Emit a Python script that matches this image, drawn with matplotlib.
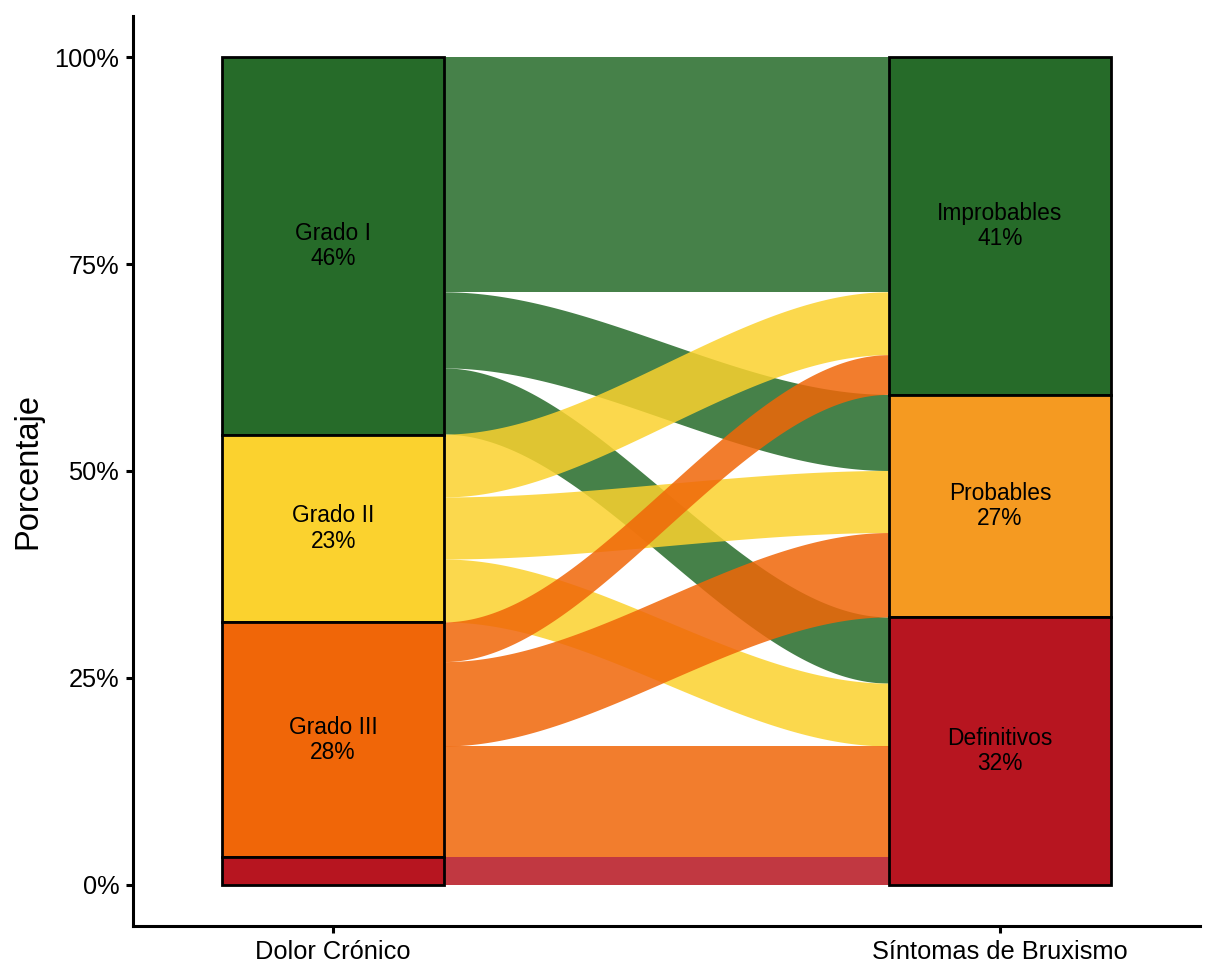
import numpy as np
import matplotlib
matplotlib.use("Agg")
import matplotlib.pyplot as plt
from matplotlib.patches import Rectangle, Polygon

plt.rcParams['font.family'] = ['Liberation Sans', 'DejaVu Sans']

# data (percent of patients)
axis_labels = ["Dolor Crónico", "Síntomas de Bruxismo"]
left_cats = ["Grado I", "Grado II", "Grado III", "Grado IV"]
right_cats = ["Improbables", "Probables", "Definitivos"]
# rows: left category, cols: right category
flows = np.array([
    [28.4, 9.2, 8.0],
    [7.6, 7.5, 7.6],
    [4.8, 10.2, 13.4],
    [0.0, 0.0, 3.3],
])
yticks = [0, 25, 50, 75, 100]
ytick_labels = ["0%", "25%", "50%", "75%", "100%"]

left_colors = ["#266B29", "#FBD22E", "#F06608", "#B71520"]
right_colors = ["#266B29", "#F59A21", "#B71520"]

width = 1 / 3
x_left, x_right = 1, 2
flow_alpha = 0.85

left_tot = flows.sum(axis=1)
right_tot = flows.sum(axis=0)

# stratum tops (stacked from the top, first category on top)
left_top = 100 - np.concatenate([[0], np.cumsum(left_tot)[:-1]])
right_top = 100 - np.concatenate([[0], np.cumsum(right_tot)[:-1]])

fig, ax = plt.subplots(figsize=(12.16, 9.8), dpi=100)
fig.subplots_adjust(left=0.1094, right=0.9868, bottom=0.0551, top=0.9837)

# flows
x0 = x_left + width / 2
x1 = x_right - width / 2
t = np.linspace(0, 1, 200)
s = 3 * t**2 - 2 * t**3
xs = x0 + (x1 - x0) * t

lpos = left_top.copy()
rpos = right_top.copy()
segments = []
for i in range(len(left_cats)):
    for j in range(len(right_cats)):
        v = flows[i, j]
        if v <= 0:
            continue
        segments.append((i, j, lpos[i], rpos[j], v))
        lpos[i] -= v
        rpos[j] -= v

for i, j, ly, ry, v in segments:
    top = ly + (ry - ly) * s
    bot = top - v
    pts = np.concatenate([np.column_stack([xs, top]),
                          np.column_stack([xs[::-1], bot[::-1]])])
    ax.add_patch(Polygon(pts, closed=True, facecolor=left_colors[i],
                         alpha=flow_alpha, edgecolor='none', zorder=1))

# strata
def draw_strata(xc, cats, tots, tops, colors):
    for k, cat in enumerate(cats):
        ax.add_patch(Rectangle((xc - width / 2, tops[k] - tots[k]), width, tots[k],
                               facecolor=colors[k], edgecolor='black',
                               linewidth=2.0, zorder=3))
        if tots[k] >= 5:
            ax.text(xc, tops[k] - tots[k] / 2, f"{cat}\n{tots[k]:.0f}%",
                    ha='center', va='center', fontsize=16.4, linespacing=1.12,
                    zorder=4)

draw_strata(x_left, left_cats, left_tot, left_top, left_colors)
draw_strata(x_right, right_cats, right_tot, right_top, right_colors)

ax.set_xlim(0.7, 2.3)
ax.set_ylim(-5, 105)
ax.set_xticks([x_left, x_right])
ax.set_xticklabels(axis_labels, fontsize=18.3)
ax.set_yticks(yticks)
ax.set_yticklabels(ytick_labels, fontsize=18.3)
ax.set_ylabel("Porcentaje", fontsize=23.5, labelpad=8)

for side in ['top', 'right']:
    ax.spines[side].set_visible(False)
for side in ['left', 'bottom']:
    ax.spines[side].set_linewidth(2.2)
ax.tick_params(length=5, width=2.2, pad=5, colors='black')

plt.savefig("out.png", dpi=100)
